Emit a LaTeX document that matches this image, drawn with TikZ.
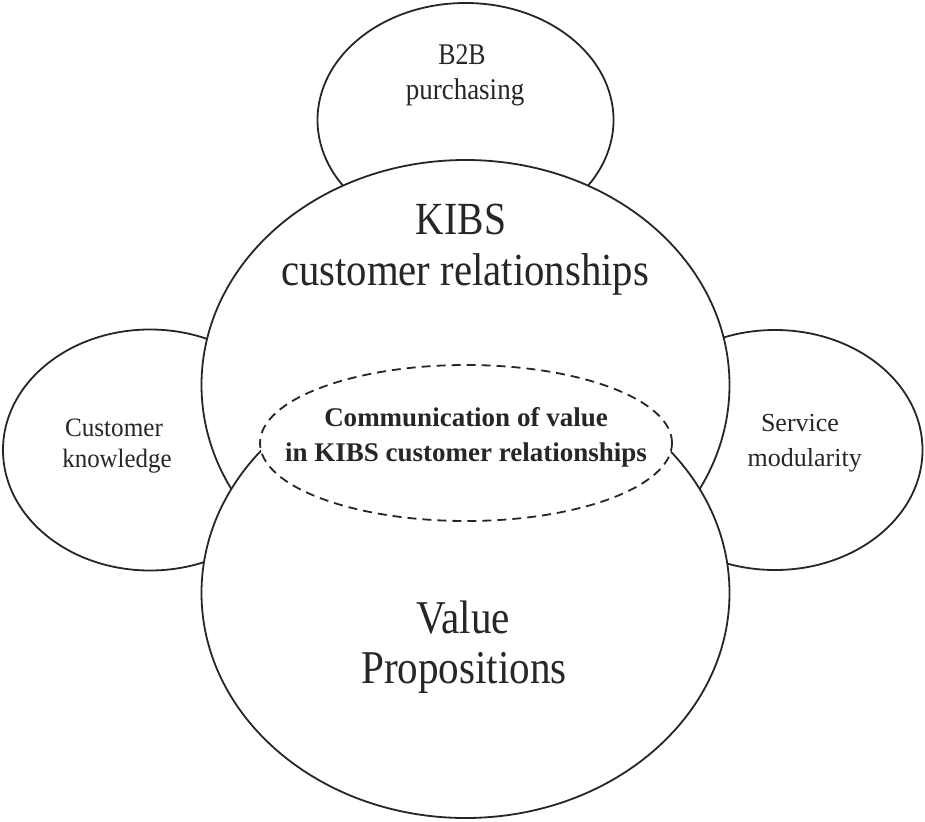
\documentclass[tikz,border=0pt]{standalone}
\usepackage{fontspec}
\usepackage{graphicx}
\setmainfont{Liberation Serif}
\usetikzlibrary{shapes.geometric}
% horizontally narrowed text
\newcommand{\narrowtxt}[2]{\scalebox{#1}[1]{#2}}
\begin{document}
\begin{tikzpicture}[x=1pt,y=-1pt,
  blob/.style={ellipse, draw=black!85, line width=1.8pt, fill=white, inner sep=0pt, outer sep=0pt},
  core/.style={blob, dash pattern=on 9pt off 6pt},
  lbl/.style={anchor=base, inner sep=0pt, text=black!85}]
  \useasboundingbox (0,0) rectangle (925,821);
  % side and top topics, partly hidden behind the two main fields
  \node[blob, minimum width=294pt, minimum height=241pt] (know) at (150,450) {};
  \node[blob, minimum width=295pt, minimum height=240pt] (modu) at (775,450) {};
  \node[blob, minimum width=296pt, minimum height=234pt] (b2b) at (465.5,120) {};
  % the two main fields
  \node[blob, minimum width=528pt, minimum height=450pt] (kibs) at (465.5,385) {};
  \node[blob, minimum width=528pt, minimum height=450pt] (vp) at (465.5,593) {};
  % their overlap
  \node[core, minimum width=412pt, minimum height=156pt] (comm) at (466,443) {};
  % labels
  \node[lbl, font=\fontsize{30}{35}\selectfont] (b2bA) at (462,65) {\narrowtxt{0.86}{B2B}};
  \node[lbl, font=\fontsize{30}{35}\selectfont] (b2bB) at (465,100) {\narrowtxt{0.9}{purchasing}};
  \node[lbl, font=\fontsize{46}{51}\selectfont] (kibsA) at (461,234) {\narrowtxt{0.86}{KIBS}};
  \node[lbl, font=\fontsize{46}{51}\selectfont] (kibsB) at (465,285) {\narrowtxt{0.886}{customer relationships}};
  \node[lbl, font=\fontsize{26.5}{31}\selectfont] (knowA) at (114,436) {\narrowtxt{0.95}{Customer}};
  \node[lbl, font=\fontsize{26.5}{31}\selectfont] (knowB) at (117,467) {\narrowtxt{0.94}{knowledge}};
  \node[lbl, font=\fontsize{26}{31}\selectfont] (moduA) at (800,431.7) {Service};
  \node[lbl, font=\fontsize{26}{31}\selectfont] (moduB) at (804.7,466.7) {modularity};
  \node[lbl, font=\bfseries\fontsize{27}{35}\selectfont] (commA) at (466,426.7) {Communication of value};
  \node[lbl, font=\bfseries\fontsize{27}{35}\selectfont] (commB) at (466,461.7) {in KIBS customer relationships};
  \node[lbl, font=\fontsize{47}{50}\selectfont] (vpA) at (463,633) {\narrowtxt{0.875}{Value}};
  \node[lbl, font=\fontsize{47}{50}\selectfont] (vpB) at (464,683) {\narrowtxt{0.875}{Propositions}};
\end{tikzpicture}
\end{document}
